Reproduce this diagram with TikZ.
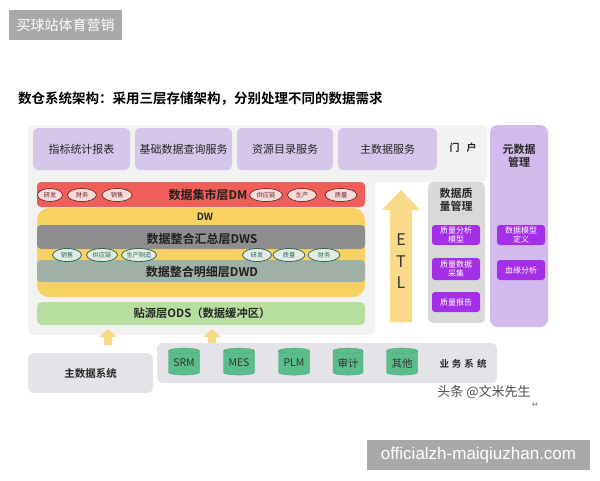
\documentclass[tikz,border=0pt]{standalone}
\usepackage{fontspec}
\setmainfont{Noto Sans CJK SC}[BoldFont={Noto Sans CJK SC Bold}]
\newfontfamily\wmfont{Liberation Sans}
\usetikzlibrary{shapes.geometric}
\definecolor{panel}{HTML}{F2F2F2}
\definecolor{lav}{HTML}{D6C6EA}
\definecolor{metab}{HTML}{D3BAEC}
\definecolor{vivid}{HTML}{A42FE6}
\definecolor{qgray}{HTML}{D9D9D9}
\definecolor{dmred}{HTML}{F15E5A}
\definecolor{dmell}{HTML}{F7DADA}
\definecolor{dmedge}{HTML}{6B2B2B}
\definecolor{dwyel}{HTML}{F7D262}
\definecolor{dwsgray}{HTML}{8E8E8E}
\definecolor{dwdgray}{HTML}{9FB0A6}
\definecolor{dwell}{HTML}{E3EBE5}
\definecolor{dwedge}{HTML}{2E6B55}
\definecolor{odsg}{HTML}{B6DE9E}
\definecolor{arrowy}{HTML}{F8DA88}
\definecolor{sysgray}{HTML}{E4E3E8}
\definecolor{cylg}{HTML}{5BBD8B}
\definecolor{wmgray}{HTML}{A9A9A9}
\tikzset{
  topbox/.style={fill=lav, rounded corners=5pt, inner sep=0pt, font=\fontsize{11}{13}\selectfont, text=black!85},
  qbox/.style={fill=vivid, rounded corners=3pt, inner sep=0pt, text=white, font=\fontsize{8}{9}\selectfont, align=center},
  dmoval/.style={ellipse, fill=dmell, draw=dmedge, line width=0.7pt, inner sep=0pt, minimum height=13pt, font=\fontsize{6.2}{7}\selectfont, text=dmedge},
  dwoval/.style={ellipse, fill=dwell, draw=dwedge, line width=0.8pt, inner sep=0pt, minimum height=13pt, font=\fontsize{6.2}{7}\selectfont, text=dwedge},
  layertext/.style={font=\bfseries\fontsize{12}{14}\selectfont, text=black!88},
  cyl/.style={cylinder, shape border rotate=90, aspect=0.25, fill=cylg, draw=cylg!85!black, line width=0.3pt, minimum width=31pt, minimum height=27pt, inner sep=0pt, font=\fontsize{10.5}{12}\selectfont, text=black!80},
  grayarrow/.style={fill=arrowy, draw=none}
}
\begin{document}
\begin{tikzpicture}[x=1pt,y=-1pt]
\useasboundingbox[fill=white] (0,0) rectangle (600,480);
% watermark top
\node[fill=wmgray, minimum width=113pt, minimum height=30pt, inner sep=0pt, text=white, font=\fontsize{14}{16}\selectfont] (wmtop) at (65.5,25) {买球站体育营销};
% title
\node[anchor=west, inner sep=0pt, font=\bfseries\fontsize{13.5}{15}\selectfont] (title) at (18,99) {数仓系统架构：采用三层存储架构，分别处理不同的数据需求};
% panels
\fill[panel, rounded corners=5pt] (28,125) rectangle (487,182);
\fill[panel, rounded corners=5pt] (28,176) rectangle (375,335);
% top service boxes
\node[topbox, minimum width=97pt, minimum height=42pt] (s1) at (81.5,149) {指标统计报表};
\node[topbox, minimum width=97pt, minimum height=42pt] (s2) at (183.5,149) {基础数据查询服务};
\node[topbox, minimum width=96pt, minimum height=42pt] (s3) at (285,149) {资源目录服务};
\node[topbox, minimum width=99pt, minimum height=42pt] (s4) at (387.5,149) {主数据服务};
\node[font=\bfseries\fontsize{10}{12}\selectfont, text=black!85] (portal) at (463,148) {门\hspace{7pt}户};
% metadata management
\node[fill=metab, rounded corners=8pt, minimum width=58pt, minimum height=202pt, inner sep=0pt] (meta) at (519,226) {};
\node[font=\bfseries\fontsize{11}{13}\selectfont, align=center, text=black!85] (metat) at (519,156) {元数据\\管理};
\node[qbox, minimum width=48pt, minimum height=20pt] (m1) at (521,235) {数据模型\\定义};
\node[qbox, minimum width=48pt, minimum height=20pt] (m2) at (521,270) {血缘分析};
% quality management
\node[fill=qgray, rounded corners=5pt, minimum width=57pt, minimum height=141pt, inner sep=0pt] (qual) at (456.5,252.5) {};
\node[font=\bfseries\fontsize{11}{13}\selectfont, align=center, text=black!85] (qualt) at (456,200) {数据质\\量管理};
\node[qbox, minimum width=48pt, minimum height=20pt] (q1) at (456,235) {质量分析\\模型};
\node[qbox, minimum width=48pt, minimum height=22pt] (q2) at (456,269) {质量数据\\采集};
\node[qbox, minimum width=48pt, minimum height=20pt] (q3) at (456,302) {质量报告};
% ETL arrow
\fill[arrowy] (390,322) -- (390,210) -- (382,210) -- (401,190) -- (420,210) -- (412,210) -- (412,322) -- cycle;
\node[font=\fontsize{16}{16}\selectfont, text=black!80] (etle) at (401,240) {E};
\node[font=\fontsize{16}{16}\selectfont, text=black!80] (etlt) at (401,262) {T};
\node[font=\fontsize{16}{16}\selectfont, text=black!80] (etll) at (401,283) {L};
% DW yellow body
\node[fill=dwyel, rounded corners=12pt, minimum width=328pt, minimum height=89pt, inner sep=0pt] (dw) at (201,252.5) {};
\node[font=\bfseries\fontsize{10}{12}\selectfont, text=black!85] (dwt) at (205,217) {DW};
\node[fill=dwsgray, rounded corners=4pt, minimum width=328pt, minimum height=24pt, inner sep=0pt] (dws) at (201,237) {};
\node[layertext] (dwst) at (202,239) {数据整合汇总层DWS};
\node[fill=dwdgray, rounded corners=4pt, minimum width=328pt, minimum height=22pt, inner sep=0pt] (dwd) at (201,271) {};
\node[layertext] (dwdt) at (202,272) {数据整合明细层DWD};
\node[dwoval, minimum width=29pt] (w1) at (67,255) {销售};
\node[dwoval, minimum width=31pt] (w2) at (102,255) {供应链};
\node[dwoval, minimum width=35pt] (w3) at (139,255) {生产制造};
\node[dwoval, minimum width=29pt] (w4) at (257,255) {研发};
\node[dwoval, minimum width=32pt] (w5) at (289,255) {质量};
\node[dwoval, minimum width=32pt] (w6) at (324,255) {财务};
% DM layer
\node[fill=dmred, rounded corners=4pt, minimum width=328pt, minimum height=25pt, inner sep=0pt] (dm) at (201,194.5) {};
\node[layertext] (dmt) at (208,195) {数据集市层DM};
\node[dmoval, minimum width=25pt] (d1) at (50,195) {研发};
\node[dmoval, minimum width=29pt] (d2) at (82,195) {财务};
\node[dmoval, minimum width=30pt] (d3) at (117,195) {销售};
\node[dmoval, minimum width=33pt] (d4) at (266,195) {供应链};
\node[dmoval, minimum width=29pt] (d5) at (302,195) {生产};
\node[dmoval, minimum width=32pt] (d6) at (341,195) {质量};
% ODS
\node[fill=odsg, rounded corners=5pt, minimum width=328pt, minimum height=23pt, inner sep=0pt] (ods) at (201,313.5) {};
\node[font=\bfseries\fontsize{11.3}{13}\selectfont, text=black!85] (odst) at (202,313) {贴源层ODS（数据缓冲区）};
% small arrows
\fill[arrowy] (104,345) -- (104,337) -- (99,337) -- (108,329) -- (117,337) -- (112,337) -- (112,345) -- cycle;
\fill[arrowy] (208,345) -- (208,337) -- (203,337) -- (212,329) -- (221,337) -- (216,337) -- (216,345) -- cycle;
% source systems
\node[fill=sysgray, rounded corners=6pt, minimum width=125pt, minimum height=40pt, inner sep=0pt, font=\bfseries\fontsize{10.5}{12}\selectfont, text=black!85] (mds) at (90.5,373) {主数据系统};
\node[fill=sysgray, rounded corners=6pt, minimum width=340pt, minimum height=40pt, inner sep=0pt] (biz) at (327,363) {};
\node[cyl] (c1) at (184,363) {SRM};
\node[cyl] (c2) at (239,363) {MES};
\node[cyl] (c3) at (294,363) {PLM};
\node[cyl, minimum width=30pt] (c4) at (348,363) {审计};
\node[cyl] (c5) at (402,363) {其他};
\node[font=\bfseries\fontsize{9.5}{11}\selectfont, text=black!85] (bizt) at (463,364) {业\hspace{3pt}务\hspace{3pt}系\hspace{3pt}统};
% credit
\node[font=\fontsize{13}{15}\selectfont, text=black!70] (credit) at (484,392) {头条 @文米先生};
\node[font=\fontsize{5}{6}\selectfont, text=black!70] (pg) at (535,405) {44};
% watermark bottom
\node[fill=wmgray, minimum width=223pt, minimum height=30pt, inner sep=0pt, text=white, font=\wmfont\fontsize{17}{19}\selectfont] (wmbot) at (478.5,455) {officialzh-maiqiuzhan.com};
\end{tikzpicture}
\end{document}
